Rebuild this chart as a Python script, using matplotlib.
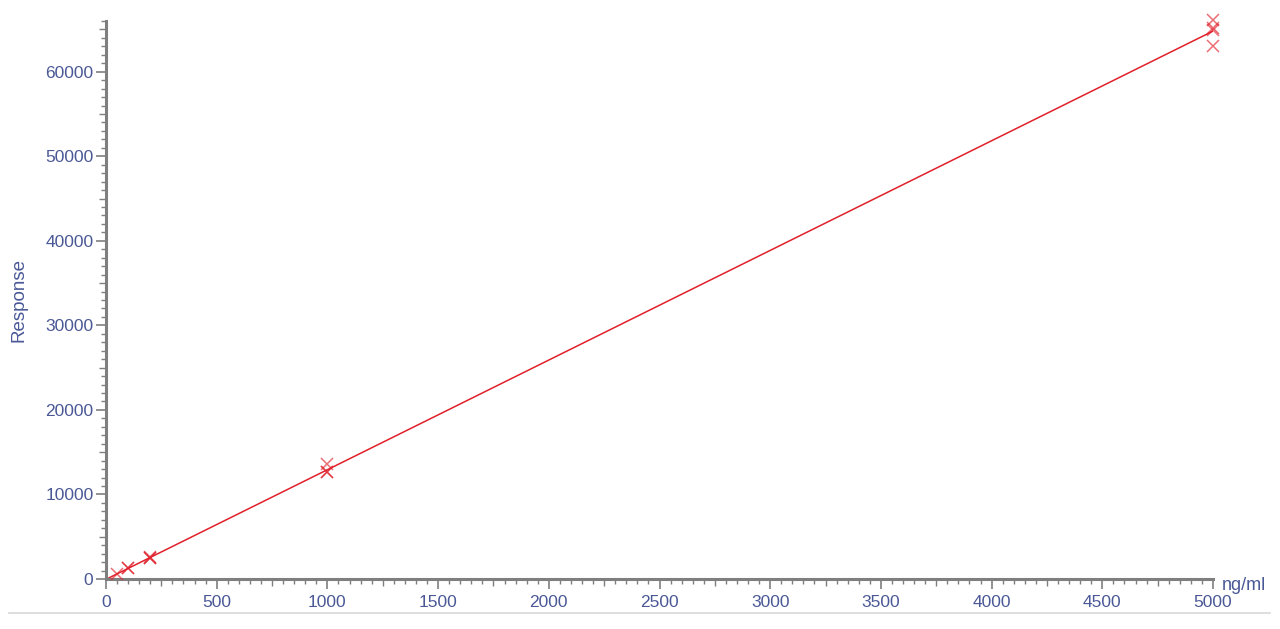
import numpy as np
import matplotlib
matplotlib.use('Agg')
import matplotlib.pyplot as plt
from matplotlib.ticker import MultipleLocator
from matplotlib.lines import Line2D

# calibration data
conc = [50, 100, 100, 200, 200, 200, 1000, 1000, 1000, 5000, 5000, 5000, 5000]
response = [620, 1250, 1300, 2450, 2500, 2550, 13600, 12700, 12600, 66100, 65200, 64900, 63000]
x_label = 'ng/ml'
y_label = 'Response'

plt.rcParams['font.family'] = ['Liberation Sans', 'DejaVu Sans']
blue = '#4a5896'
grey = '#7f7f7f'
red = '#e0202a'

fig = plt.figure(figsize=(12.8, 6.29), dpi=100)
ax = fig.add_axes([106/1280, 1-579/629, (1213-106)/1280, (579-21)/629])

# linear fit line
k, b = np.polyfit(conc, response, 1)
xf = np.array([0, 5000])
ax.plot(xf, k*xf + b, color=red, lw=1.1, zorder=2)
ax.plot(conc, response, linestyle='none', marker='x', color=red, ms=9, mew=1.1,
        alpha=0.65, zorder=3, clip_on=False)

ax.set_xlim(0, 5000)
ax.set_ylim(0, 66000)

for s in ['top', 'right']:
    ax.spines[s].set_visible(False)
for s in ['left', 'bottom']:
    ax.spines[s].set_color(grey)
    ax.spines[s].set_linewidth(2.2)

ax.xaxis.set_major_locator(MultipleLocator(500))
ax.xaxis.set_minor_locator(MultipleLocator(50))
ax.yaxis.set_major_locator(MultipleLocator(10000))
ax.yaxis.set_minor_locator(MultipleLocator(1000))
ax.tick_params(which='major', length=7, width=1.2, color=grey, labelcolor=blue, labelsize=12.5)
ax.tick_params(axis='x', which='major', pad=4.2)
ax.tick_params(axis='y', which='major', pad=2)
ax.tick_params(which='minor', length=3.6, width=1.0, color=grey)

# medium ticks at 250 / 5000 steps
fig.canvas.draw()
xlocs = ax.xaxis.get_minorticklocs()
for t, v in zip(ax.xaxis.get_minor_ticks(len(xlocs)), xlocs):
    if abs(v % 250) < 1e-6:
        t.tick1line.set_markersize(5.2)
ylocs = ax.yaxis.get_minorticklocs()
for t, v in zip(ax.yaxis.get_minor_ticks(len(ylocs)), ylocs):
    if abs(v % 5000) < 1e-6:
        t.tick1line.set_markersize(5.2)

ax.set_ylabel(y_label, color=blue, fontsize=13.5)
ax.yaxis.set_label_coords(-0.071, 0.5)
ax.text(1.008, -0.019, x_label, transform=ax.transAxes, color=blue, fontsize=13,
        ha='left', va='baseline')

# thin separator line under the chart
fig.add_artist(Line2D([9/1280, 1270/1280], [1-613/629, 1-613/629], color='#d8d8d8', lw=1.2))

fig.savefig('out.png', dpi=100)
